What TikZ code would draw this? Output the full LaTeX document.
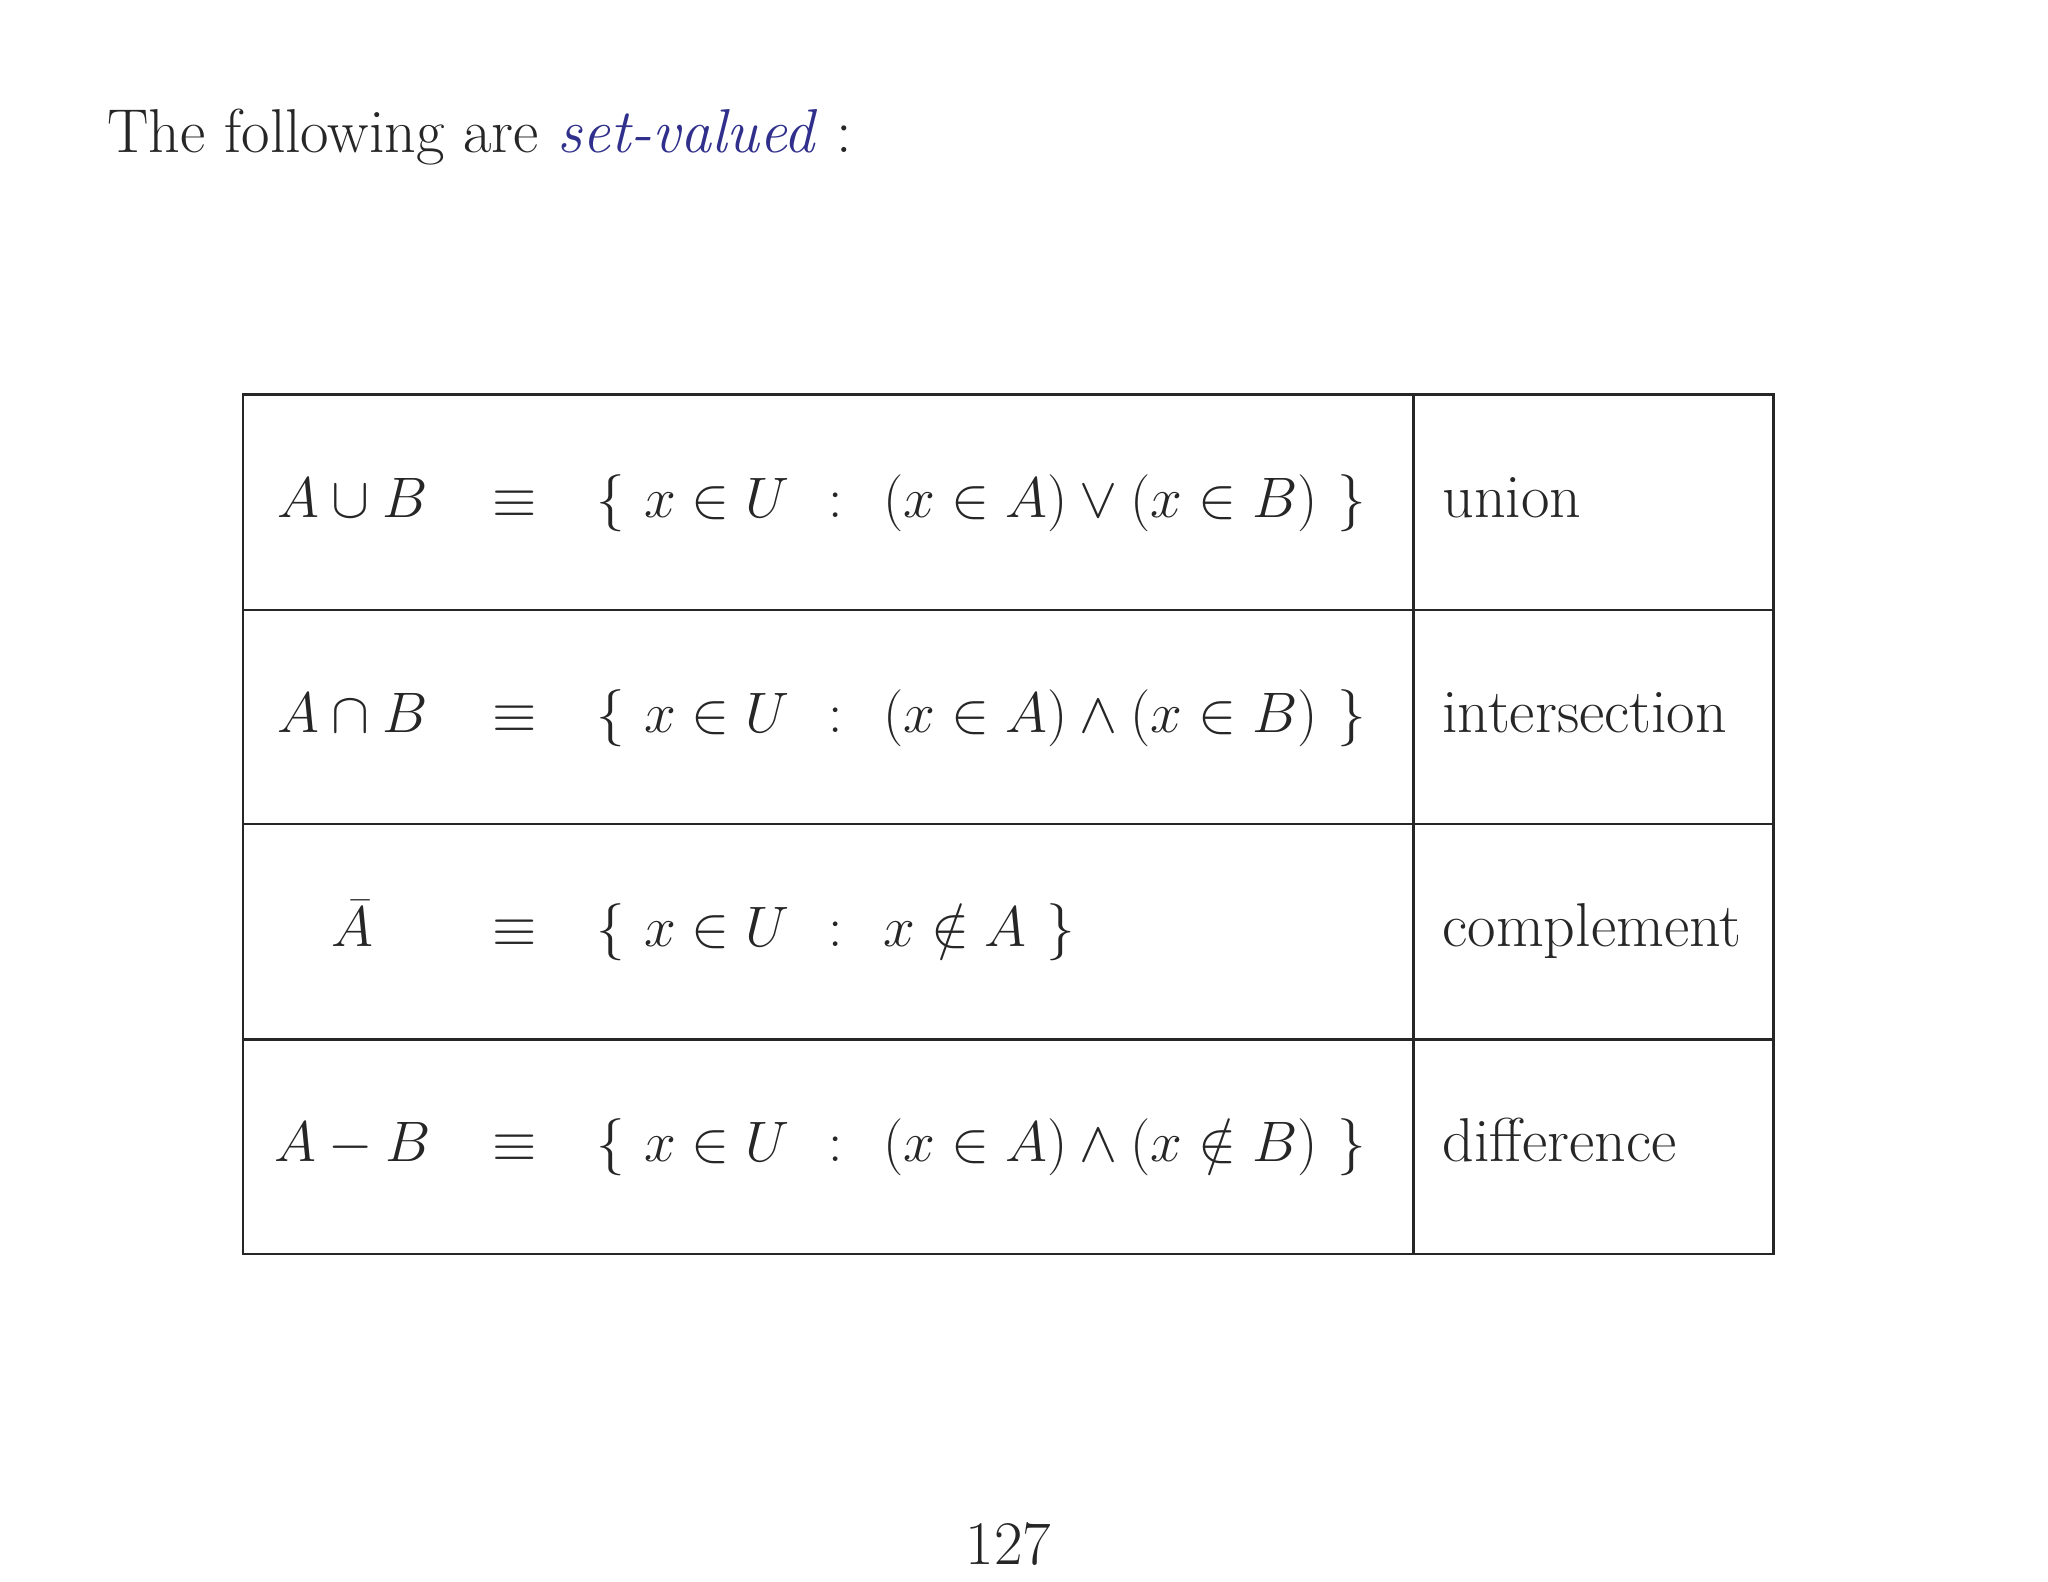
\documentclass[tikz,border=0pt]{standalone}
\usepackage{amssymb}
\definecolor{emblue}{RGB}{48,48,140}
\begin{document}
\begin{tikzpicture}[x=0.02cm,y=-0.02cm,
  every node/.style={inner sep=0pt,font=\fontsize{27}{32}\selectfont,text=black!85},
  wide/.style={font=\fontsize{28}{32}\selectfont},
  grid/.style={line width=1.1pt,black!85}]
\useasboundingbox (0,0) rectangle (1568,1211);
\node[anchor=base west] (title) at (82,117) {The following are \textcolor{emblue}{\textit{set-valued}} :};
\draw[grid] (186,302) rectangle (1358,960);
\draw[grid] (1082,302) -- (1082,960);
\foreach \y in {467,631,796} \draw[grid] (186,\y) -- (1358,\y);
\foreach \i/\l/\r/\n in {0/{A\cup B}/{(x\in A)\vee(x\in B)\ \}}/union,
                          1/{A\cap B}/{(x\in A)\wedge(x\in B)\ \}}/intersection,
                          2/{\bar A}/{x\notin A\ \}}/complement,
                          3/{A-B}/{(x\in A)\wedge(x\notin B)\ \}}/difference}{
  \pgfmathsetmacro{\b}{396+164.5*\i}
  \node[anchor=base] (l\i) at (270,\b) {$\l$};
  \node[anchor=base] (e\i) at (394,\b) {$\equiv$};
  \node[anchor=base west,wide] (s\i) at (456,\b) {$\{\ x\in U$};
  \node[anchor=base] (c\i) at (640,\b) {$:$};
  \node[anchor=base west,wide] (r\i) at (676,\b) {$\r$};
  \node[anchor=base west] (n\i) at (1104,\b) {\n};
}
\node[anchor=base] (page) at (772,1198) {127};
\end{tikzpicture}
\end{document}
